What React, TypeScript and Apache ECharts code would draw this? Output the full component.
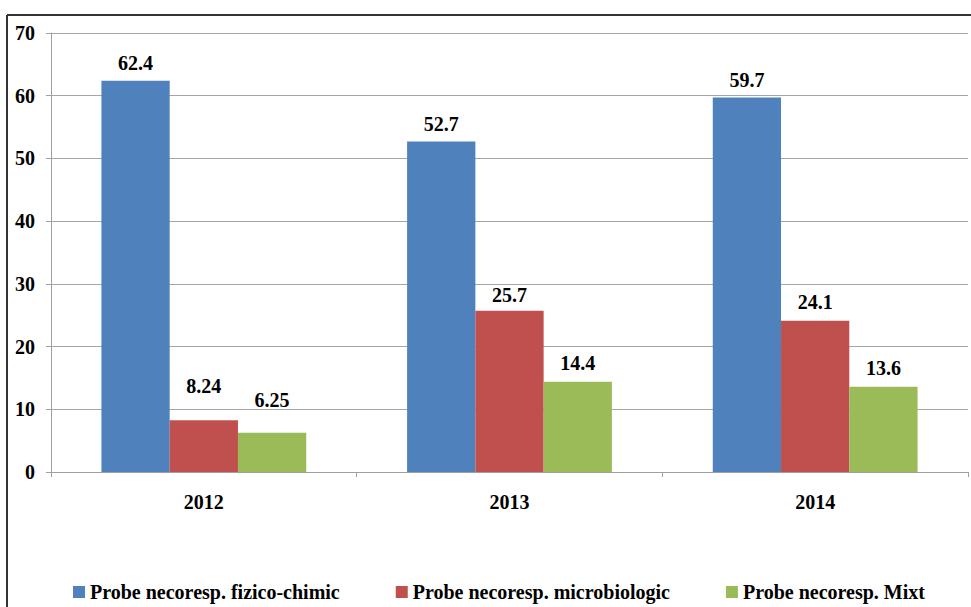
import React, { useEffect, useRef } from "react";
import * as echarts from "echarts";

const categories = ["2012", "2013", "2014"];
const seriesNames = [
  "Probe necoresp. fizico-chimic",
  "Probe necoresp. microbiologic",
  "Probe necoresp. Mixt",
];
const fizicoChimic = [62.4, 52.7, 59.7];
const microbiologic = [8.24, 25.7, 24.1];
const mixt = [6.25, 14.4, 13.6];
const colors = ["#4F81BD", "#C0504D", "#9BBB59"];

// label distance above bars (styling only)
const labelDistances = [
  [8, 7, 8],
  [24, 6, 9],
  [23, 9, 9],
];

const FONT = "'Liberation Serif', 'Times New Roman', serif";

export default function App() {
  const ref = useRef<HTMLDivElement>(null);
  useEffect(() => {
    if (!ref.current) return;
    const chart = echarts.init(ref.current, null, { renderer: "svg" });
    const dataSets = [fizicoChimic, microbiologic, mixt];
    chart.setOption({
      animation: false,
      backgroundColor: "#ffffff",
      textStyle: { fontFamily: FONT },
      grid: { left: 51, right: 3, top: 33, bottom: 135 },
      legend: {
        left: 68,
        top: 577,
        itemWidth: 12,
        itemHeight: 12,
        itemGap: 56,
        icon: "rect",
        textStyle: { fontFamily: FONT, fontWeight: "bold", fontSize: 20, color: "#000" },
        data: seriesNames,
      },
      xAxis: {
        type: "category",
        data: categories,
        axisLine: { lineStyle: { color: "#A0A0A0", width: 1 } },
        axisTick: { show: true, length: 5, lineStyle: { color: "#A0A0A0" } },
        axisLabel: {
          fontFamily: FONT,
          fontWeight: "bold",
          fontSize: 20,
          color: "#000",
          margin: 20,
        },
      },
      yAxis: {
        type: "value",
        min: 0,
        max: 70,
        interval: 10,
        axisLine: { show: true, lineStyle: { color: "#A0A0A0", width: 1 } },
        axisTick: { show: true, length: 5, lineStyle: { color: "#A0A0A0" } },
        splitLine: { lineStyle: { color: "#A6A6A6", width: 1 } },
        axisLabel: {
          fontFamily: FONT,
          fontWeight: "bold",
          fontSize: 20,
          color: "#000",
          margin: 16,
        },
      },
      graphic: [
        {
          type: "line",
          shape: { x1: 7, y1: 15, x2: 971, y2: 15 },
          style: { stroke: "#333", lineWidth: 2 },
        },
        {
          type: "line",
          shape: { x1: 7, y1: 15, x2: 7, y2: 607 },
          style: { stroke: "#333", lineWidth: 2 },
        },
      ],
      series: seriesNames.map((name, i) => ({
        name,
        type: "bar",
        data: dataSets[i].map((v, j) => ({
          value: v,
          label: { distance: labelDistances[i][j] },
        })),
        barGap: "0%",
        barCategoryGap: "33%",
        itemStyle: { color: colors[i] },
        label: {
          show: true,
          position: "top",
          fontFamily: FONT,
          fontWeight: "bold",
          fontSize: 20,
          color: "#000",
        },
      })),
    });
    return () => chart.dispose();
  }, []);
  return (
    <div
      ref={ref}
      style={{ position: "fixed", left: 0, top: 0, width: 971, height: 607 }}
    />
  );
}
